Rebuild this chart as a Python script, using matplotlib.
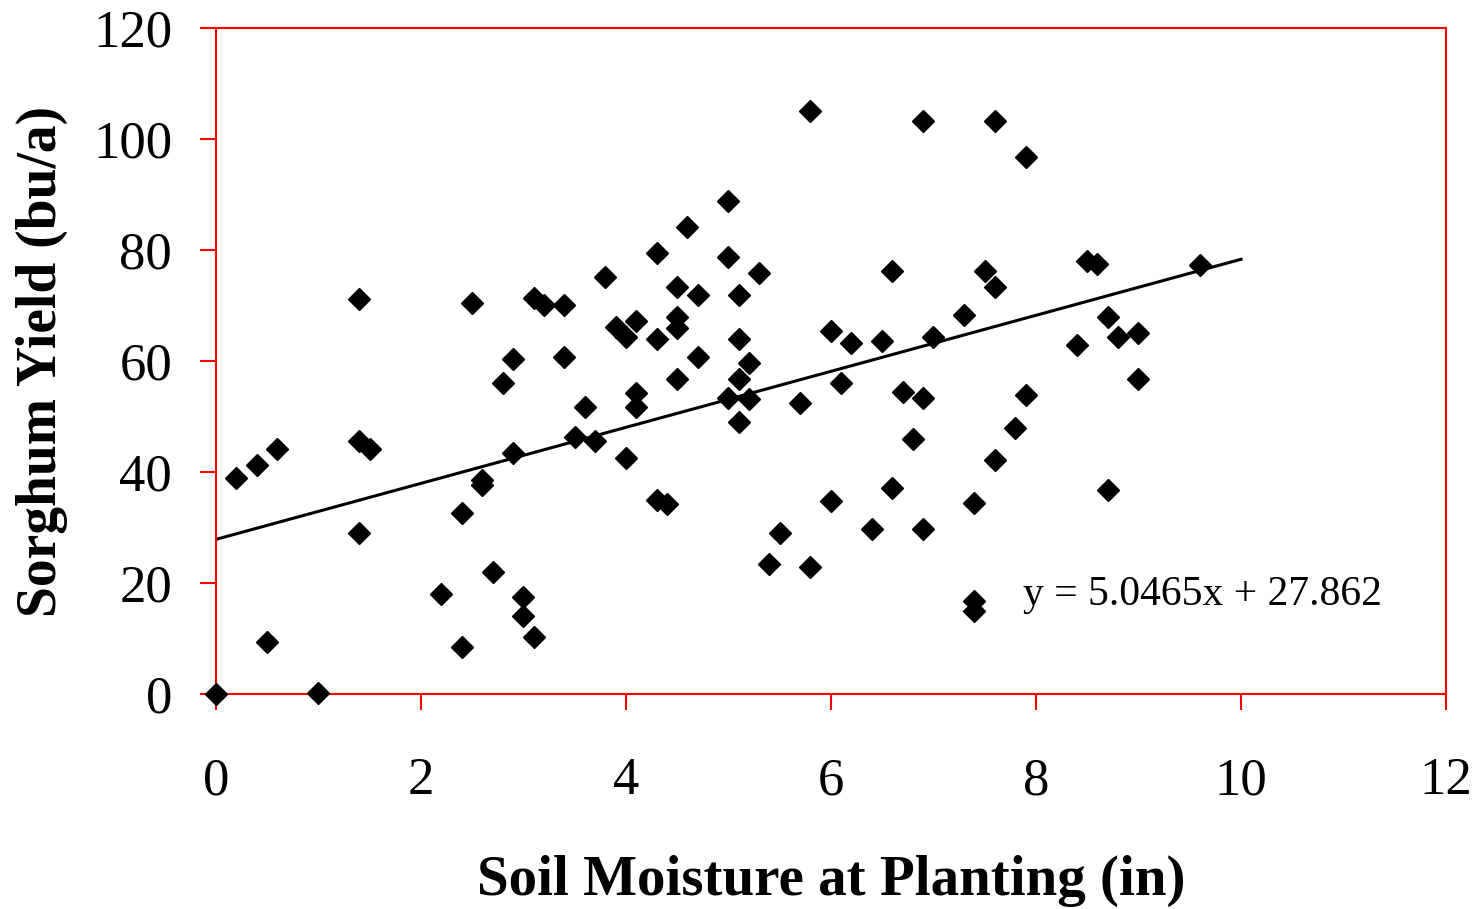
import numpy as np
import matplotlib
matplotlib.use("Agg")
import matplotlib.pyplot as plt

# --- data ---
soil_moisture = [0.0, 0.2, 0.4, 0.6, 0.5, 1.0, 1.4, 1.4, 1.5, 1.4,
                 2.2, 2.4, 2.4, 2.5, 2.6, 2.6, 2.7, 2.8, 2.9, 2.9,
                 3.0, 3.0, 3.1, 3.1, 3.2, 3.4, 3.4, 3.5, 3.6, 3.7,
                 3.8, 3.9, 4.0, 4.0, 4.1, 4.1, 4.1, 4.3, 4.3, 4.3,
                 4.4, 4.5, 4.5, 4.5, 4.5, 4.6, 4.7, 4.7, 5.0, 5.0,
                 5.0, 5.1, 5.1, 5.1, 5.1, 5.2, 5.2, 5.3, 5.4, 5.5,
                 5.7, 5.8, 5.8, 6.0, 6.0, 6.1, 6.2, 6.4, 6.5, 6.6,
                 6.6, 6.7, 6.8, 6.9, 6.9, 6.9, 7.0, 7.3, 7.4, 7.4,
                 7.4, 7.5, 7.6, 7.6, 7.6, 7.8, 7.9, 7.9, 8.4, 8.5,
                 8.6, 8.7, 8.7, 8.8, 9.0, 9.0, 9.6]
sorghum_yield = [0.0, 39.0, 41.3, 44.1, 9.4, 0.1, 71.1, 45.6, 44.1, 29.0,
                 18.1, 32.6, 8.4, 70.4, 38.6, 37.6, 22.0, 56.0, 60.4, 43.4,
                 17.5, 14.1, 10.2, 71.3, 70.1, 70.1, 60.7, 46.3, 51.7, 45.5,
                 75.2, 66.1, 64.3, 42.6, 67.2, 54.2, 51.7, 79.4, 63.9, 35.0,
                 34.3, 73.3, 67.9, 65.9, 56.7, 84.1, 71.9, 60.7, 88.8, 78.7,
                 53.4, 71.9, 63.9, 56.7, 49.1, 59.6, 53.1, 75.8, 23.5, 29.0,
                 52.4, 105.0, 22.8, 65.4, 34.8, 56.0, 63.2, 29.7, 63.6, 76.2,
                 37.2, 54.5, 46.0, 103.2, 53.4, 29.7, 64.3, 68.3, 34.4, 16.7,
                 14.9, 76.2, 103.2, 73.3, 42.2, 48.0, 96.8, 53.8, 62.8, 78.0,
                 77.5, 67.9, 36.8, 64.3, 65.0, 56.7, 77.3]

trend_slope = 5.0465
trend_intercept = 27.862
trend_x = [0, 10]

x_ticks = [0, 2, 4, 6, 8, 10, 12]
y_ticks = [0, 20, 40, 60, 80, 100, 120]

plt.rcParams['font.family'] = ['Liberation Serif', 'DejaVu Serif']

fig = plt.figure(figsize=(14.82, 9.09), dpi=100)
ax = fig.add_axes([0.1457, 0.2365, 0.9757 - 0.1457, 0.9692 - 0.2365])

ax.plot(soil_moisture, sorghum_yield, 'D', color='black', markersize=11,
        clip_on=False, zorder=3)
tx = np.array(trend_x, dtype=float)
ax.plot(tx, trend_slope * tx + trend_intercept, color='black', lw=2.2, zorder=2)

ax.text(7.87, 17.8, 'y = 5.0465x + 27.862', fontsize=30, va='center', ha='left')

ax.set_xlim(0, 12)
ax.set_ylim(0, 120)
ax.set_xticks(x_ticks)
ax.set_yticks(y_ticks)

for s in ax.spines.values():
    s.set_color('red')
    s.set_linewidth(1.5)
ax.tick_params(axis='both', direction='out', color='red', width=1.5,
               length=11.5, labelsize=38)
ax.tick_params(axis='y', pad=20)
ax.tick_params(axis='x', pad=34)

ax.set_xlabel('Soil Moisture at Planting (in)', fontsize=41, fontweight='bold',
              labelpad=36)
ax.set_ylabel('Sorghum Yield (bu/a)', fontsize=40, fontweight='bold',
              labelpad=18)

fig.savefig('out.png', dpi=100, facecolor='white')
